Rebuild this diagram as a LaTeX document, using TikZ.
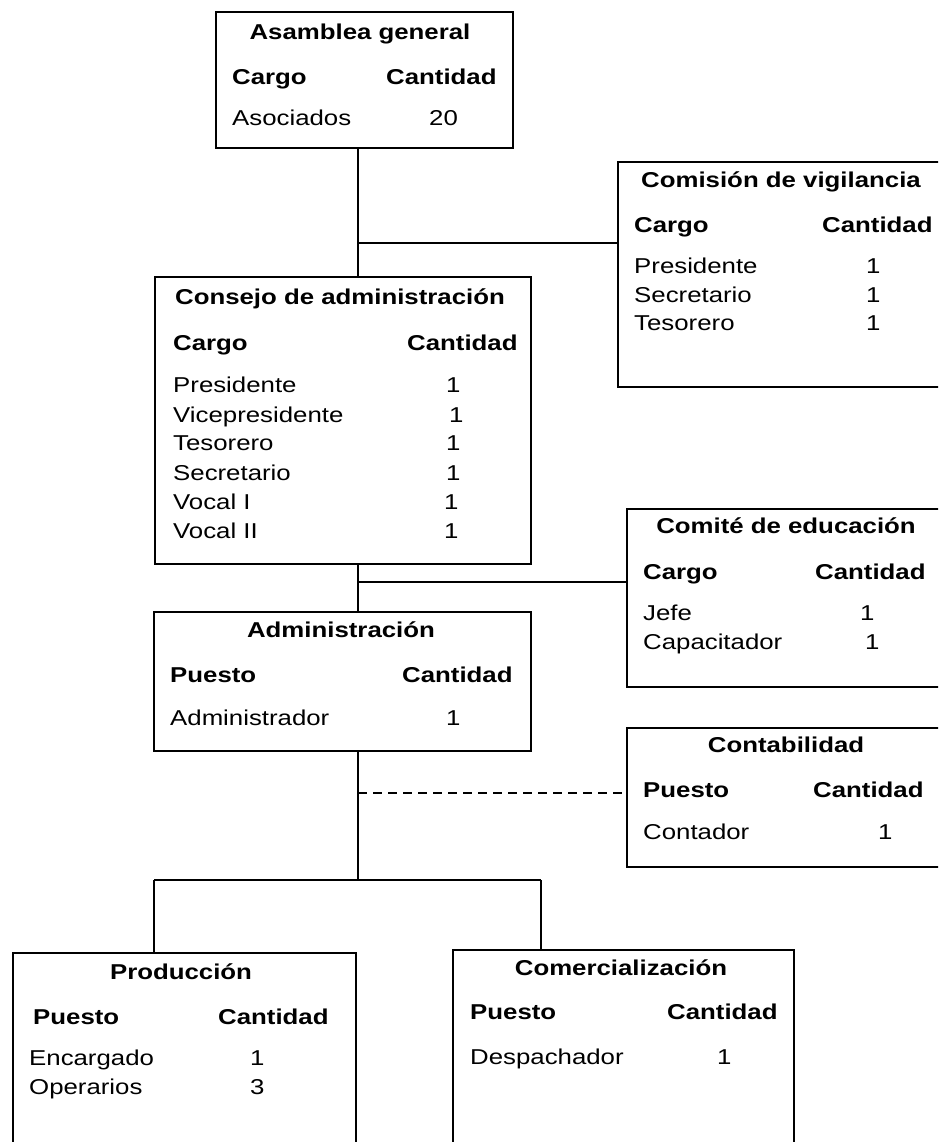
\documentclass[tikz,border=0pt]{standalone}
\usepackage{fontspec}
\setmainfont[FakeStretch=1.2]{Liberation Sans}
\begin{document}
\begin{tikzpicture}[x=1pt,y=-1pt,
  box/.style={draw=black,line width=2.8pt,rectangle,inner sep=0pt},
  conn/.style={draw=black,line width=2.8pt},
  dconn/.style={draw=black,line width=2.8pt,dash pattern=on 9pt off 6pt},
  ttl/.style={inner sep=0pt,anchor=mid,font=\fontsize{21.5}{26}\selectfont\bfseries},
  hd/.style={inner sep=0pt,anchor=mid west,font=\fontsize{21.5}{26}\selectfont\bfseries},
  tx/.style={inner sep=0pt,anchor=mid west,font=\fontsize{21.5}{26}\selectfont}]
\useasboundingbox (0,0) rectangle (938,1142);
\begin{scope}
\clip (0,0) rectangle (938,1142);
% boxes
\node[box,minimum width=297pt,minimum height=136pt] (AG) at (364.5,80) {};
\node[box,minimum width=342pt,minimum height=225pt] (CV) at (789,274.5) {};
\node[box,minimum width=376pt,minimum height=287pt] (CA) at (343,420.5) {};
\node[box,minimum width=333pt,minimum height=178pt] (CE) at (793.5,598) {};
\node[box,minimum width=377pt,minimum height=139pt] (AD) at (342.5,681.5) {};
\node[box,minimum width=333pt,minimum height=139pt] (CO) at (793.5,797.5) {};
\node[box,minimum width=343pt,minimum height=217pt] (PR) at (184.5,1061.5) {};
\node[box,minimum width=341pt,minimum height=220pt] (CM) at (623.5,1060) {};
% junctions
\coordinate (j1) at (358,243);
\coordinate (j2) at (358,582);
\coordinate (j3) at (358,793);
\coordinate (j4) at (358,880);
\coordinate (b1) at (154,880);
\coordinate (b2) at (541,880);
% connectors
\draw[conn] (AG.south -| j1) -- (CA.north -| j1);
\draw[conn] (j1) -- (j1 -| CV.west);
\draw[conn] (CA.south -| j2) -- (AD.north -| j2);
\draw[conn] (j2) -- (j2 -| CE.west);
\draw[conn] (AD.south -| j4) -- (j4);
\draw[dconn] (j3) -- (j3 -| CO.west);
\draw[conn] (b1) -- (b2);
\draw[conn] (b1) -- (b1 |- PR.north);
\draw[conn] (b2) -- (b2 |- CM.north);
% Asamblea general
\node[ttl] (ag-t) at (360,37) {Asamblea general};
\node[hd] (ag-h1) at (232,82) {Cargo};
\node[hd] (ag-h2) at (386,82) {Cantidad};
\node[tx] (ag-r1) at (232,123) {Asociados};
\node[tx] (ag-n1) at (429,123) {20};
% Comision de vigilancia
\node[ttl] (cv-t) at (781,185) {Comisión de vigilancia};
\node[hd] (cv-h1) at (634,230) {Cargo};
\node[hd] (cv-h2) at (822,230) {Cantidad};
\node[tx] (cv-r1) at (634,271) {Presidente};
\node[tx] (cv-r2) at (634,300) {Secretario};
\node[tx] (cv-r3) at (634,328) {Tesorero};
\node[tx] (cv-n1) at (866,271) {1};
\node[tx] (cv-n2) at (866,300) {1};
\node[tx] (cv-n3) at (866,328) {1};
% Consejo de administracion
\node[ttl] (ca-t) at (340,302) {Consejo de administración};
\node[hd] (ca-h1) at (173,348) {Cargo};
\node[hd] (ca-h2) at (407,348) {Cantidad};
\node[tx] (ca-r1) at (173,390) {Presidente};
\node[tx] (ca-r2) at (173,420) {Vicepresidente};
\node[tx] (ca-r3) at (173,448) {Tesorero};
\node[tx] (ca-r4) at (173,478) {Secretario};
\node[tx] (ca-r5) at (173,507) {Vocal I};
\node[tx] (ca-r6) at (173,536) {Vocal II};
\node[tx] (ca-n1) at (446,390) {1};
\node[tx] (ca-n2) at (449,420) {1};
\node[tx] (ca-n3) at (446,448) {1};
\node[tx] (ca-n4) at (446,478) {1};
\node[tx] (ca-n5) at (444,507) {1};
\node[tx] (ca-n6) at (444,536) {1};
% Comite de educacion
\node[ttl] (ce-t) at (786,531) {Comité de educación};
\node[hd] (ce-h1) at (643,577) {Cargo};
\node[hd] (ce-h2) at (815,577) {Cantidad};
\node[tx] (ce-r1) at (643,618) {Jefe};
\node[tx] (ce-r2) at (643,647) {Capacitador};
\node[tx] (ce-n1) at (860,618) {1};
\node[tx] (ce-n2) at (865,647) {1};
% Administracion
\node[ttl] (ad-t) at (341,635) {Administración};
\node[hd] (ad-h1) at (170,680) {Puesto};
\node[hd] (ad-h2) at (402,680) {Cantidad};
\node[tx] (ad-r1) at (170,723) {Administrador};
\node[tx] (ad-n1) at (446,723) {1};
% Contabilidad
\node[ttl] (co-t) at (786,750) {Contabilidad};
\node[hd] (co-h1) at (643,795) {Puesto};
\node[hd] (co-h2) at (813,795) {Cantidad};
\node[tx] (co-r1) at (643,837) {Contador};
\node[tx] (co-n1) at (878,837) {1};
% Produccion
\node[ttl] (pr-t) at (181,977) {Producción};
\node[hd] (pr-h1) at (33,1022) {Puesto};
\node[hd] (pr-h2) at (218,1022) {Cantidad};
\node[tx] (pr-r1) at (29,1063) {Encargado};
\node[tx] (pr-r2) at (29,1092) {Operarios};
\node[tx] (pr-n1) at (250,1063) {1};
\node[tx] (pr-n2) at (250,1092) {3};
% Comercializacion
\node[ttl] (cm-t) at (621,973) {Comercialización};
\node[hd] (cm-h1) at (470,1017) {Puesto};
\node[hd] (cm-h2) at (667,1017) {Cantidad};
\node[tx] (cm-r1) at (470,1062) {Despachador};
\node[tx] (cm-n1) at (717,1062) {1};
\end{scope}
\end{tikzpicture}
\end{document}
